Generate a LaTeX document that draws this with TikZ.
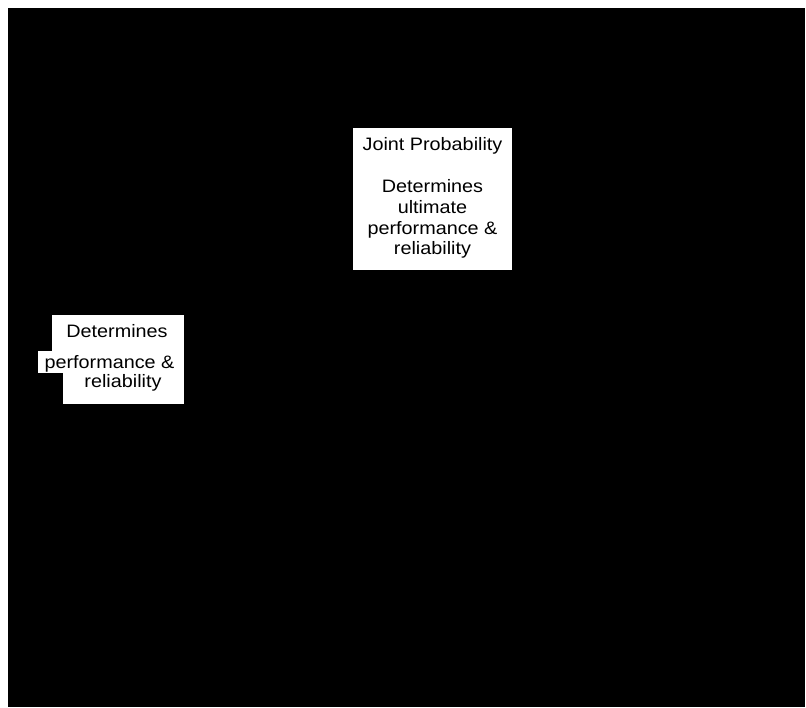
\documentclass[tikz,border=0pt]{standalone}
\usepackage{fontspec}
\setmainfont[FakeStretch=1.1]{Liberation Sans}
\begin{document}
\begin{tikzpicture}[x=1pt,y=-1pt,
  txt/.style={anchor=base,inner sep=0pt,font=\fontsize{18}{21}\selectfont},
  panel/.style={fill=white,draw=none}]
\useasboundingbox (0,0) rectangle (806,707);
\fill[black] (8,8) rectangle (805,707);
% top box
\fill[panel] (353,128) rectangle (512,270);
\node[txt] (jp) at (432.5,150) {Joint Probability};
\node[txt] (d1) at (432.5,192) {Determines};
\node[txt] (u1) at (432.5,213) {ultimate};
\node[txt] (p1) at (432.5,234) {performance \&};
\node[txt] (r1) at (432.5,254) {reliability};
% left box
\fill[panel] (52,315) rectangle (184,351);
\fill[panel] (38,351) rectangle (184,373);
\fill[panel] (63,373) rectangle (184,404);
\node[txt] (d2) at (117,337) {Determines};
\node[txt] (p2) at (109.5,368) {performance \&};
\node[txt] (r2) at (123,387) {reliability};
\end{tikzpicture}
\end{document}
